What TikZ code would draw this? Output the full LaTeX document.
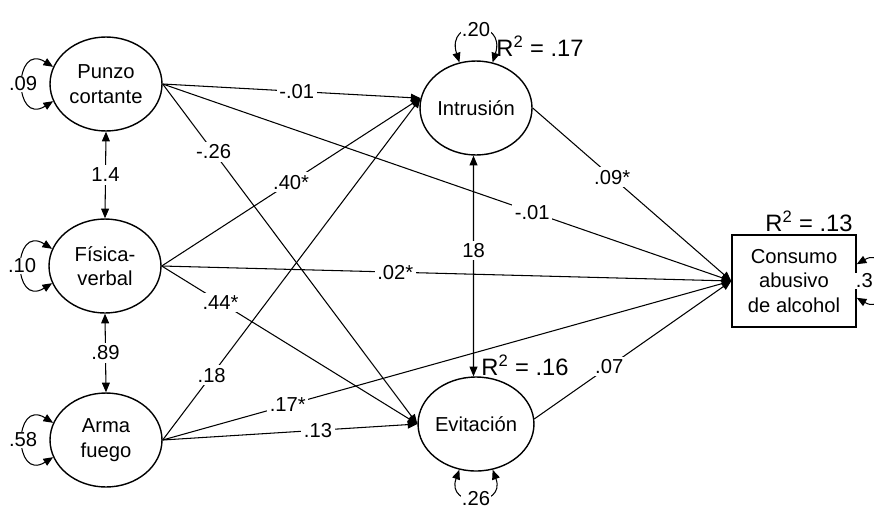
\documentclass[tikz,border=0pt]{standalone}
\usepackage{fontspec}
\setmainfont{Liberation Sans}
\usetikzlibrary{arrows.meta,shapes.geometric}

\begin{document}
\begin{tikzpicture}[x=0.02cm,y=-0.02cm,
  font=\fontsize{11.5}{14}\selectfont,
  lat/.style={ellipse,draw,line width=0.8pt,minimum width=2.24cm,minimum height=1.88cm,inner sep=0pt,align=center},
  obs/.style={rectangle,draw,line width=0.8pt,minimum width=2.48cm,minimum height=1.84cm,align=center},
  eff/.style={line width=0.6pt,-{Triangle[length=5.5pt,width=4.5pt]}},
  cov/.style={line width=0.6pt,{Triangle[length=5.5pt,width=4.5pt]}-{Triangle[length=5.5pt,width=4.5pt]}},
  coef/.style={fill=white,inner sep=1.5pt},
  rsq/.style={font=\fontsize{13.5}{15}\selectfont,inner sep=1pt}]
\useasboundingbox (0,0) rectangle (874,514);

% Latent variables
\node[lat] (punzo) at (106,84) {Punzo\\cortante};
\node[lat] (fisica) at (105,266) {Física-\\verbal};
\node[lat] (arma) at (106,440) {Arma\\fuego};
\node[lat] (intru) at (476,108) {Intrusión};
\node[lat] (evit) at (476,424) {Evitación};
\node[obs] (cons) at (794,281) {Consumo\\abusivo\\de alcohol};

% R squared
\node[rsq] (rintru) at (540,46) {R\textsuperscript{2} = .17};
\node[rsq] (revit) at (525,365) {R\textsuperscript{2} = .16};
\node[rsq] (rcons) at (809,221) {R\textsuperscript{2} = .13};

% Covariances
\draw[cov] (punzo.south) -- node[coef]{1.4} (fisica.north);
\draw[cov] (fisica.south) -- node[coef]{.89} (arma.north);
\draw[cov] (intru.-93) -- node[coef,pos=0.43]{18} (evit.93);

% Paths
\draw[eff] (punzo.east) -- node[coef,pos=0.52]{-.01} (intru.170);
\draw[eff] (punzo.east) -- node[coef,pos=0.65]{-.01} (cons.west);
\draw[eff] (punzo.east) -- node[coef,pos=0.2]{-.26} (evit.west);
\draw[eff] (fisica.east) -- node[coef,pos=0.5]{.40*} (intru.170);
\draw[eff] (fisica.east) -- node[coef,pos=0.41]{.02*} (cons.west);
\draw[eff] (fisica.east) -- node[coef,pos=0.23]{.44*} (evit.west);
\draw[eff] (arma.east) -- node[coef,pos=0.19]{.18} (intru.170);
\draw[eff] (arma.east) -- node[coef,pos=0.22]{.17*} (cons.west);
\draw[eff] (arma.east) -- node[coef,pos=0.61]{.13} (evit.west);
\draw[eff] (intru.east) -- node[coef,pos=0.4]{.09*} (cons.west);
\draw[eff] (evit.5) -- node[coef,pos=0.38]{.07} (cons.west);

% Variances
\draw[cov] (punzo.162) .. controls +(-40,-25) and +(-40,25) .. node[coef,inner sep=0.5pt]{.09} (punzo.198);
\draw[cov] (fisica.162) .. controls +(-40,-25) and +(-40,25) .. node[coef,inner sep=0.5pt]{.10} (fisica.198);
\draw[cov] (arma.162) .. controls +(-40,-25) and +(-40,25) .. node[coef,inner sep=0.5pt]{.58} (arma.198);
\draw[cov] (intru.110) .. controls +(-14,-44) and +(14,-44) .. node[coef,inner sep=0.5pt]{.20} (intru.70);
\draw[cov] (evit.250) .. controls +(-14,38) and +(14,38) .. node[coef,inner sep=0.5pt]{.26} (evit.290);
\draw[cov] (cons.15) .. controls +(35,-20) and +(35,20) .. (cons.-15);
\node[coef,anchor=east,inner sep=0.5pt] (rescons) at (874,281) {.3};
\end{tikzpicture}
\end{document}
